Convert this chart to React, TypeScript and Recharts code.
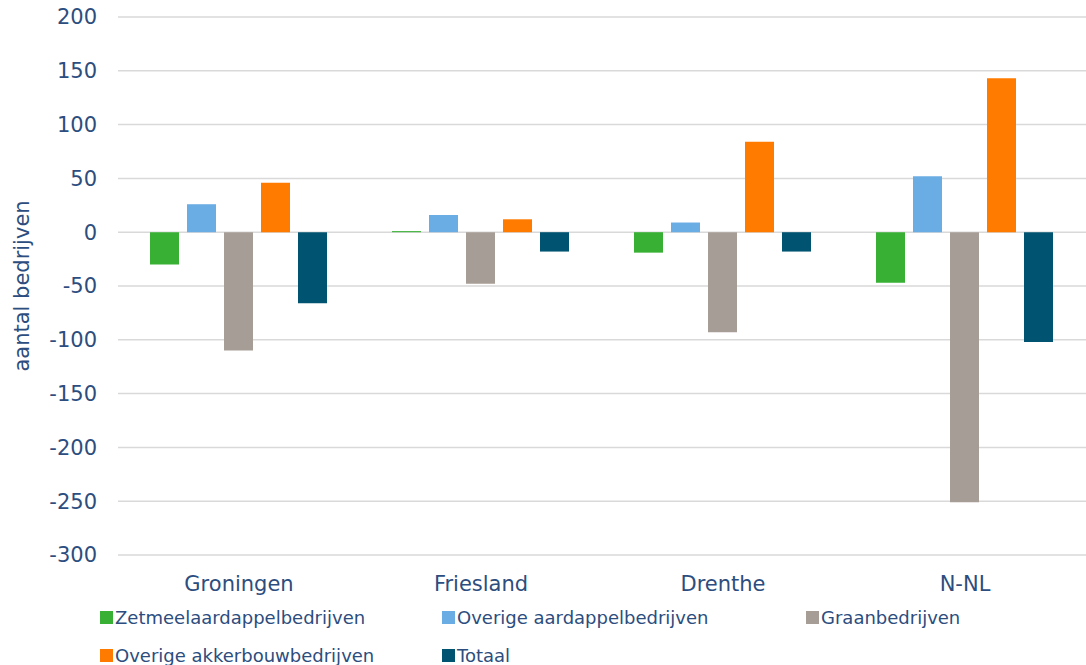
import React from "react";
import { BarChart, Bar, XAxis, YAxis, CartesianGrid } from "recharts";

const categories = ["Groningen", "Friesland", "Drenthe", "N-NL"];
const zetmeel = [-30, 1, -19, -47];
const overigeAardappel = [26, 16, 9, 52];
const graan = [-110, -48, -93, -251];
const overigeAkkerbouw = [46, 12, 84, 143];
const totaal = [-66, -18, -18, -102];
const yTicks = [-300, -250, -200, -150, -100, -50, 0, 50, 100, 150, 200];

const seriesNames = [
  "Zetmeelaardappelbedrijven",
  "Overige aardappelbedrijven",
  "Graanbedrijven",
  "Overige akkerbouwbedrijven",
  "Totaal",
];
const seriesKeys = ["zetmeel", "overigeAardappel", "graan", "overigeAkkerbouw", "totaal"];
const seriesColors = ["#37b034", "#6aade4", "#a69d96", "#ff7b00", "#005371"];

const data = categories.map((c, i) => ({
  name: c,
  zetmeel: zetmeel[i],
  overigeAardappel: overigeAardappel[i],
  graan: graan[i],
  overigeAkkerbouw: overigeAkkerbouw[i],
  totaal: totaal[i],
}));

const TEXT = "#2c4d7e";
const FONT = "'DejaVu Sans', Verdana, sans-serif";
const itemWidths = [342, 364, 280, 342, 300];

const LegendBlock = () => (
  <div
    style={{
      position: "absolute",
      left: 100,
      top: 598,
      width: 986,
      display: "flex",
      flexWrap: "wrap",
      fontFamily: FONT,
    }}
  >
    {seriesNames.map((n, i) => (
      <div
        key={n}
        style={{ width: itemWidths[i], height: 38, display: "flex", alignItems: "center" }}
      >
        <span
          style={{ width: 13, height: 13, background: seriesColors[i], display: "inline-block", marginRight: 2 }}
        />
        <span style={{ color: TEXT, fontSize: 18, whiteSpace: "nowrap" }}>{n}</span>
      </div>
    ))}
  </div>
);

export default function App() {
  return (
    <div style={{ position: "absolute", left: 0, top: 0, width: 1086, height: 665, background: "#fff" }}>
      <BarChart
        width={1086}
        height={665}
        data={data}
        margin={{ top: 17, right: 0, left: 0, bottom: 65 }}
        barCategoryGap={32}
        barGap={8}
      >
        <CartesianGrid vertical={false} stroke="#d9d9d9" strokeWidth={1.5} />
        <XAxis
          dataKey="name"
          axisLine={false}
          tickLine={false}
          tickSize={0}
          tickMargin={21}
          height={45}
          tick={{ fill: TEXT, fontSize: 21, fontFamily: FONT }}
        />
        <YAxis
          width={118}
          domain={[-300, 200]}
          ticks={yTicks}
          axisLine={false}
          tickLine={false}
          tickSize={0}
          tickMargin={21}
          tick={{ fill: TEXT, fontSize: 21, fontFamily: FONT }}
          label={{
            value: "aantal bedrijven",
            angle: -90,
            position: "insideLeft",
            offset: 22,
            style: { fill: TEXT, fontSize: 21, fontFamily: FONT, textAnchor: "middle" },
          }}
        />
        {seriesKeys.map((k, i) => (
          <Bar key={k} dataKey={k} name={seriesNames[i]} fill={seriesColors[i]} isAnimationActive={false} />
        ))}
      </BarChart>
      <LegendBlock />
    </div>
  );
}
